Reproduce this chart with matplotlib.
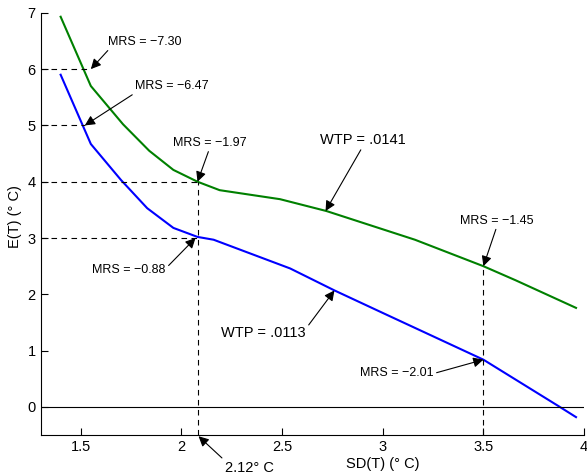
import matplotlib
matplotlib.use('Agg')
import matplotlib.pyplot as plt

plt.rcParams['font.family'] = ['Liberation Sans', 'DejaVu Sans']
plt.rcParams['font.size'] = 10.5

# curves
sd_high = [1.40, 1.55, 1.71, 1.84, 1.96, 2.08, 2.19, 2.49, 2.72, 3.16, 3.50, 3.66, 3.96]
e_high = [6.93, 5.70, 5.02, 4.55, 4.21, 4.00, 3.85, 3.69, 3.48, 2.97, 2.50, 2.25, 1.76]
sd_low = [1.40, 1.55, 1.70, 1.83, 1.96, 2.08, 2.16, 2.54, 2.76, 3.00, 3.50, 3.88, 3.96]
e_low = [5.90, 4.67, 4.03, 3.53, 3.18, 3.02, 2.97, 2.46, 2.07, 1.67, 0.84, 0.00, -0.18]

# dashed guide lines
h_guides_y = [6, 5, 4, 3]
h_guides_x = [1.55, 1.52, 2.08, 2.08]
v_guides_x = [2.08, 3.5]
v_guides_y = [4.0, 2.5]

# annotations: label, text pos, arrow target, rel pos of arrow tail, font size
labels = ['MRS = \u22127.30', 'MRS = \u22126.47', 'MRS = \u22121.97', 'WTP = .0141',
          'MRS = \u22121.45', 'MRS = \u22120.88', 'WTP = .0113', 'MRS = \u22122.01',
          '2.12\u00b0 C']
text_xy = [(1.634, 6.485), (1.768, 5.70), (1.956, 4.69), (2.686, 4.74),
           (3.384, 3.31), (1.558, 2.44), (2.198, 1.316), (2.888, 0.595),
           (2.215, -1.075)]
point_xy = [(1.55, 6.0), (1.52, 5.0), (2.08, 4.0), (2.716, 3.48),
            (3.5, 2.5), (2.07, 3.0), (2.76, 2.07), (3.5, 0.84),
            (2.085, -0.52)]
tails = [(0.05, 0.1), (0.05, 0.1), (0.5, 0.0), (0.5, 0.0),
         (0.5, 0.0), (1.0, 0.6), (1.0, 0.8), (1.0, 0.5), (0.0, 1.0)]
sizes = [9, 9, 9, 10.5, 9, 9, 10.5, 9, 10.5]

fig = plt.figure(figsize=(5.87, 4.74), dpi=100)
ax = fig.add_axes([0.069, 0.082, 0.926, 0.891])

ax.plot(sd_high, e_high, color='#008000', lw=1.5)
ax.plot(sd_low, e_low, color='#0000ff', lw=1.5)
ax.axhline(0, color='k', lw=0.8)

for y, x in zip(h_guides_y, h_guides_x):
    ax.plot([1.3, x], [y, y], 'k--', lw=0.8, dashes=(5, 4))
for x, y in zip(v_guides_x, v_guides_y):
    ax.plot([x, x], [-0.5, y], 'k--', lw=0.8, dashes=(5, 4))

for lab, t, p, r, s in zip(labels, text_xy, point_xy, tails, sizes):
    ax.annotate(lab, xy=p, xytext=t, ha='left', va='center', fontsize=s,
                annotation_clip=False,
                arrowprops=dict(arrowstyle='-|>', color='k', lw=0.8,
                                mutation_scale=15, shrinkA=0, shrinkB=0,
                                relpos=r))

ax.set_xlim(1.3, 4)
ax.set_ylim(-0.5, 7)
ax.set_xticks([1.5, 2, 2.5, 3, 3.5, 4])
ax.set_xticklabels(['1.5', '2', '2.5', '3', '3.5', '4'])
ax.set_yticks(range(0, 8))
ax.tick_params(direction='in', length=5)
ax.spines['top'].set_visible(False)
ax.spines['right'].set_visible(False)
ax.set_xlabel('SD(T) (\u00b0 C)', labelpad=2, x=0.63)
ax.set_ylabel('E(T) (\u00b0 C)', labelpad=4, y=0.517)

fig.savefig('out.png', dpi=100)
